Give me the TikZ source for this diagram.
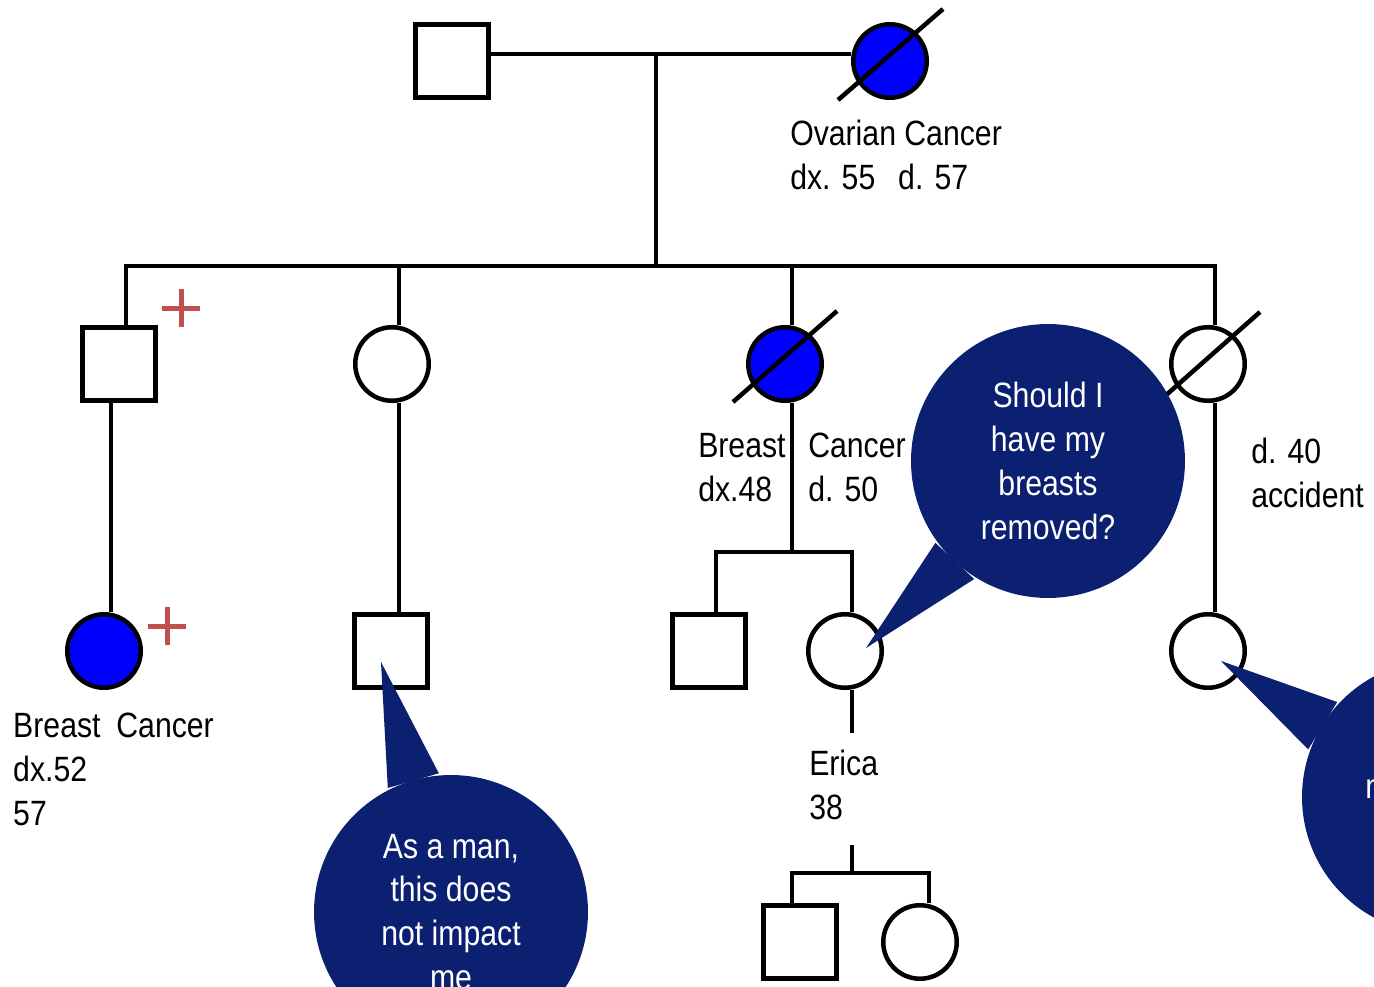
\documentclass[tikz,border=0pt]{standalone}
\usepackage{fontspec}
\setmainfont[FakeStretch=0.86]{Liberation Sans}
\usetikzlibrary{shapes.misc}
\definecolor{affblue}{RGB}{0,0,255}
\definecolor{plusred}{RGB}{192,80,77}
\definecolor{bubblenavy}{RGB}{12,32,114}
\begin{document}
\begin{tikzpicture}[x=0.02cm,y=-0.02cm,line width=0.09cm,
    male/.style={draw,rectangle,fill=white,minimum size=1.47cm,inner sep=0pt},
    female/.style={draw,circle,fill=white,minimum size=1.47cm,inner sep=0pt},
    affected/.style={fill=affblue},
    plusmark/.style={draw=plusred,cross out,rotate=45,minimum size=0.45cm,inner sep=0pt,line width=0.1cm},
    note/.style={anchor=north west,align=left,inner sep=0pt,font=\fontsize{20pt}{25pt}\selectfont},
    bubble/.style={circle,fill=bubblenavy,text=white,minimum size=5.48cm,inner sep=0pt,align=center,font=\fontsize{20pt}{25pt}\selectfont}]
  \useasboundingbox (0,0) rectangle (1374,987);
  \clip (0,0) rectangle (1374,987);

  \node[male] (gpa) at (452,61) {};
  \node[female,affected] (gma) at (890,61) {};
  \node[male] (uncle) at (119,364) {};
  \node[female] (aunt) at (392,364) {};
  \node[female,affected] (mom) at (785,364) {};
  \node[female] (aunt2) at (1208,364) {};
  \node[female,affected] (cous1) at (104,651) {};
  \node[male] (cous2) at (391,651) {};
  \node[male] (bro) at (709,651) {};
  \node[female] (erica) at (845,651) {};
  \node[female] (cous4) at (1208,651) {};
  \node[male] (son) at (800,942) {};
  \node[female] (dau) at (920,942) {};

  \coordinate (mar) at (656,54);
  \coordinate (sib2) at (656,266);
  \coordinate (sibL) at (126,266);
  \coordinate (sibR) at (1215,266);
  \coordinate (dAunt) at (399,266);
  \coordinate (dMom) at (792,266);
  \coordinate (dUncle) at (111,403);
  \coordinate (sib3L) at (716,552);
  \coordinate (sib3R) at (852,552);
  \coordinate (eStub) at (852,733);
  \coordinate (sib4top) at (852,845);
  \coordinate (sib4L) at (792,873);
  \coordinate (sib4R) at (929,873);

  \draw (gpa.east |- mar) -- (gma.west |- mar);
  \draw (mar) -- (sib2);
  \draw (sibL |- uncle.north) -- (sibL) -- (sibR) -- (sibR |- aunt2.north);
  \draw (dAunt) -- (dAunt |- aunt.north);
  \draw (dMom) -- (dMom |- mom.north);
  \draw (dUncle) -- (dUncle |- cous1.north);
  \draw (dAunt |- aunt.south) -- (dAunt |- cous2.north);
  \draw (dMom |- mom.south) -- (dMom |- sib3L);
  \draw (sib3L |- bro.north) -- (sib3L) -- (sib3R) -- (sib3R |- erica.north);
  \draw (sibR |- aunt2.south) -- (sibR |- cous4.north);
  \draw (sib3R |- erica.south) -- (eStub);
  \draw (sib4top) -- (sib4top |- sib4L);
  \draw (sib4L |- son.north) -- (sib4L) -- (sib4R) -- (sib4R |- dau.north);

  \draw ([shift={(-52,39)}]gma.center) -- ([shift={(53,-52)}]gma.center);
  \draw ([shift={(-52,38)}]mom.center) -- ([shift={(52,-53)}]mom.center);
  \draw ([shift={(-52,40)}]aunt2.center) -- ([shift={(52,-52)}]aunt2.center);

  \node[plusmark] (plus1) at (181,308) {};
  \node[plusmark] (plus2) at (167,626) {};

  \node[note] (gmaTxt) at (788,118) {Ovarian Cancer\\dx. 55\hspace{13pt}d. 57};
  \node[note] (momTxtL) at (696,431) {Breast\\dx.48};
  \node[note] (momTxtR) at (806,431) {Cancer\\d. 50};
  \node[note] (aunt2Txt) at (1249,436) {d. 40\\accident};
  \node[note] (cous1Txt) at (11,711) {Breast\hspace{9pt}Cancer\\dx.52\\57};
  \node[note] (ericaTxt) at (807,748) {Erica\\38};

  \node[bubble] (askQ) at (1048,461) {Should I\\have my\\breasts\\removed?};
  \coordinate (askTip) at (866,648);
  \fill[bubblenavy] (askQ.216) -- (askTip) -- (askQ.238) -- cycle;

  \node[bubble] (manQ) at (451,912) {As a man,\\this does\\not impact\\me};
  \coordinate (manTip) at (381,662);
  \fill[bubblenavy] (manQ.95) -- (manTip) -- (manQ.117) -- cycle;

  \node[bubble] (rightQ) at (1439,797) {};
  \coordinate (rightTip) at (1221,661);
  \fill[bubblenavy] (rightQ.137) -- (rightTip) -- (rightQ.160) -- cycle;
  \node[note,anchor=base west,text=white] (rightTxt) at (1363,798) {n};
\end{tikzpicture}
\end{document}
